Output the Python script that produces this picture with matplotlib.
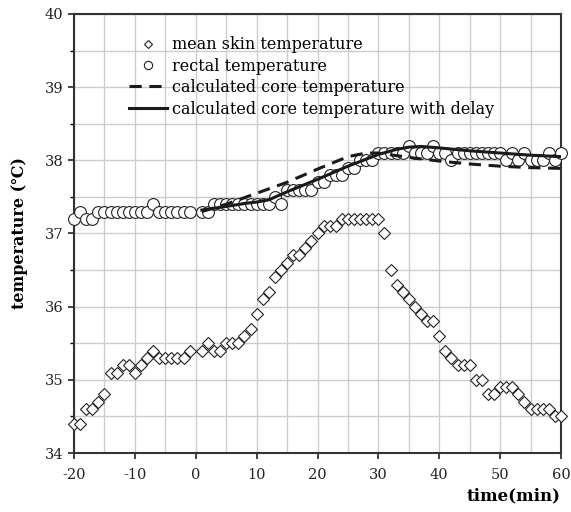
import numpy as np
import matplotlib
matplotlib.use("Agg")
import matplotlib.pyplot as plt
from matplotlib.ticker import MultipleLocator

plt.rcParams['font.family'] = ['DejaVu Serif', 'DejaVu Sans']
plt.rcParams['axes.unicode_minus'] = False

# time axis (min), no sample at t=0
time = list(range(-20, 0)) + list(range(1, 61))

skin = [34.4, 34.4, 34.6, 34.6, 34.7, 34.8, 35.1, 35.1, 35.2, 35.2,
        35.1, 35.2, 35.3, 35.4, 35.3, 35.3, 35.3, 35.3, 35.3, 35.4,
        35.4, 35.5, 35.4, 35.4, 35.5, 35.5, 35.5, 35.6, 35.7, 35.9,
        36.1, 36.2, 36.4, 36.5, 36.6, 36.7, 36.7, 36.8, 36.9, 37.0,
        37.1, 37.1, 37.1, 37.2, 37.2, 37.2, 37.2, 37.2, 37.2, 37.2,
        37.0, 36.5, 36.3, 36.2, 36.1, 36.0, 35.9, 35.8, 35.8, 35.6,
        35.4, 35.3, 35.2, 35.2, 35.2, 35.0, 35.0, 34.8, 34.8, 34.9,
        34.9, 34.9, 34.8, 34.7, 34.6, 34.6, 34.6, 34.6, 34.5, 34.5]

rectal = [37.2, 37.3, 37.2, 37.2, 37.3, 37.3, 37.3, 37.3, 37.3, 37.3,
          37.3, 37.3, 37.3, 37.4, 37.3, 37.3, 37.3, 37.3, 37.3, 37.3,
          37.3, 37.3, 37.4, 37.4, 37.4, 37.4, 37.4, 37.4, 37.4, 37.4,
          37.4, 37.4, 37.5, 37.4, 37.6, 37.6, 37.6, 37.6, 37.6, 37.7,
          37.7, 37.8, 37.8, 37.8, 37.9, 37.9, 38.0, 38.0, 38.0, 38.1,
          38.1, 38.1, 38.1, 38.1, 38.2, 38.1, 38.1, 38.1, 38.2, 38.1,
          38.1, 38.0, 38.1, 38.1, 38.1, 38.1, 38.1, 38.1, 38.1, 38.1,
          38.0, 38.1, 38.0, 38.1, 38.0, 38.0, 38.0, 38.1, 38.0, 38.1]

core_t = [1, 5, 10, 15, 20, 25, 28, 30, 35, 40, 45, 50, 55, 60]
core = [37.3, 37.4, 37.55, 37.7, 37.88, 38.05, 38.1, 38.1, 38.04, 37.99, 37.95, 37.92, 37.9, 37.89]

delay_t = [1, 5, 8, 10, 12, 15, 20, 25, 30, 33, 35, 37, 40, 45, 50, 55, 60]
delay = [37.32, 37.37, 37.41, 37.43, 37.46, 37.57, 37.74, 37.92, 38.08, 38.15, 38.18, 38.19, 38.17, 38.13, 38.1, 38.07, 38.05]

fig = plt.figure(figsize=(5.71, 5.12), dpi=100)
ax = fig.add_axes([0.1296, 0.1152, 0.8529, 0.8575])

ax.plot(time, skin, linestyle='none', marker='D', markersize=6.0,
        markerfacecolor='white', markeredgecolor='#222222', markeredgewidth=0.8,
        label='mean skin temperature', zorder=3, clip_on=False)
ax.plot(time, rectal, linestyle='none', marker='o', markersize=8.5,
        markerfacecolor='white', markeredgecolor='#222222', markeredgewidth=0.8,
        label='rectal temperature', zorder=3, clip_on=False)
ax.plot(core_t, core, color='#1a1a1a', linestyle=(0, (4, 2.5)), linewidth=2.2,
        label='calculated core temperature', zorder=4)
ax.plot(delay_t, delay, color='#1a1a1a', linestyle='-', linewidth=2.2,
        label='calculated core temperature with delay', zorder=4)

ax.set_xlim(-20, 60)
ax.set_ylim(34, 40)
ax.xaxis.set_major_locator(MultipleLocator(10))
ax.xaxis.set_minor_locator(MultipleLocator(5))
ax.yaxis.set_major_locator(MultipleLocator(1))
ax.yaxis.set_minor_locator(MultipleLocator(0.5))
ax.grid(True, which='both', color='#cccccc', linewidth=1.0, zorder=0)
ax.set_axisbelow(True)
ax.tick_params(which='major', direction='out', length=4, width=1.2, labelsize=10.5, colors='#222222')
ax.tick_params(axis='x', which='minor', length=0)
ax.tick_params(axis='y', which='minor', direction='out', length=3, width=1.0)
ax.tick_params(axis='x', pad=7)
for s in ax.spines.values():
    s.set_color('#333333')
    s.set_linewidth(1.5)

ax.set_xlabel('time(min)', fontsize=12, fontweight='bold', loc='right', labelpad=4)
ax.set_ylabel('temperature (℃)', fontsize=11.5, fontweight='bold', labelpad=12)

leg = ax.legend(loc='upper left', bbox_to_anchor=(0.09, 0.975), frameon=False,
                fontsize=11.5, handlelength=2.4, handletextpad=0.3, labelspacing=0.28,
                borderpad=0.2, markerscale=0.7)

fig.savefig('out.png', dpi=100)
